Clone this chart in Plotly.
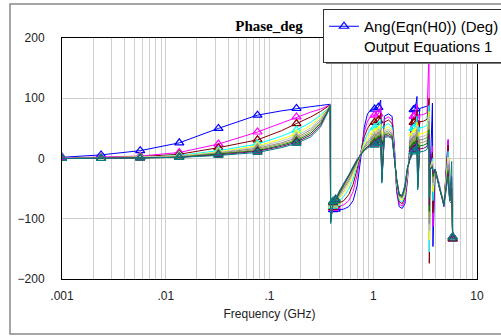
import plotly.graph_objects as go

# ---------------- data ----------------
freq_ghz = [0.001, 0.00238, 0.00567, 0.0135, 0.0322, 0.0766, 0.13, 0.182, 0.25, 0.31, 0.35, 0.375, 0.385,
            0.388, 0.41, 0.434, 0.47, 0.52, 0.58, 0.64, 0.70, 0.76, 0.82, 0.88, 0.94, 1.03, 1.12, 1.18, 1.21,
            1.28, 1.40, 1.52, 1.60, 1.68, 1.78, 1.90, 2.02, 2.14, 2.25, 2.35, 2.45, 2.55, 2.64, 2.68, 2.8,
            3.05, 3.3, 3.45, 3.47, 3.55, 3.72, 3.76, 3.95, 4.3, 4.8, 5.27, 5.45, 5.7, 5.83]

phase_s1 = [2, 6, 13, 26, 50, 72, 79, 83, 86, 88, 89, 89, 90,
            -88, -85, -84, -85, -84, -80, -70, -45, 2, 52, 74, 80, 82, 85, 97, -30,
            70, 74, 70, 20, -55, -80, -83, -75, -35, 20, 70, 81, 83, 103, -40, 83,
            85, 87, 88, 30, -15, 92, -146, -18, -40, -80, 30, -70, -75, -130]
phase_s2 = [1, 2, 4, 10, 24, 44, 59, 69, 77, 82, 86, 88, 89,
            -90, -83, -80, -79, -77, -70, -55, -27, 10, 44, 62, 69, 72, 74, 86, -30,
            65, 69, 64, 15, -50, -76, -79, -70, -31, 15, 57, 70, 72, 90, -40, 72,
            73, 76, 178, -110, -15, 20, -113, -18, -42, -78, 32, -70, -72, -130]
phase_s3 = [0, 1, 3, 7, 18, 31, 46, 58, 69, 78, 84, 87, 89,
            -92, -81, -77, -74, -70, -60, -43, -17, 11, 36, 50, 57, 60, 63, 75, -30,
            60, 64, 58, 10, -46, -72, -75, -65, -27, 10, 47, 60, 62, 80, -42, 61,
            62, 65, 100, -174, -15, 10, -90, -18, -43, -77, 22, -70, -72, -131]
phase_s4 = [0, 1, 2, 5, 13, 24, 37, 47, 60, 72, 81, 85, 89,
            -95, -79, -75, -70, -63, -51, -34, -11, 10, 29, 41, 48, 51, 54, 65, -30,
            54, 58, 52, 7, -42, -69, -72, -61, -24, 7, 37, 50, 52, 70, -43, 51,
            52, 55, 88, -155, -15, 0, -70, -18, -43, -76, 12, -70, -72, -131]
phase_s5 = [0, 1, 2, 4, 11, 21, 32, 41, 55, 69, 79, 85, 89,
            -97, -77, -73, -66, -57, -44, -27, -8, 9, 24, 34, 40, 43, 46, 57, -30,
            49, 53, 47, 5, -40, -66, -69, -57, -21, 4, 29, 41, 43, 60, -44, 41,
            42, 45, 78, -135, -15, -5, -55, -18, -44, -75, 2, -70, -72, -132]
phase_s6 = [0, 1, 2, 4, 10, 19, 29, 37, 51, 66, 78, 84, 88,
            -99, -76, -72, -64, -54, -40, -24, -7, 9, 21, 30, 35, 38, 41, 52, -32,
            46, 49, 44, 4, -38, -64, -67, -54, -19, 2, 23, 35, 37, 54, -45, 36,
            37, 40, 70, -120, -16, -8, -45, -18, -44, -75, -5, -70, -70, -132]
phase_s7 = [0, 0, 1, 3, 9, 17, 26, 34, 48, 63, 76, 84, 88,
            -101, -75, -71, -62, -51, -37, -21, -5, 8, 19, 27, 31, 34, 37, 48, -33,
            43, 46, 41, 3, -37, -63, -65, -52, -18, 1, 18, 30, 32, 48, -46, 31,
            32, 35, 62, -108, -16, -10, -40, -18, -44, -75, -10, -70, -68, -132]
phase_s8 = [0, 0, 1, 3, 8, 15, 24, 31, 45, 60, 74, 83, 88,
            -103, -74, -70, -60, -48, -34, -19, -4, 8, 17, 24, 28, 30, 33, 44, -35,
            41, 43, 39, 2, -36, -62, -64, -50, -17, 0, 14, 25, 27, 42, -47, 26,
            27, 30, 55, -98, -17, -12, -35, -18, -45, -75, -15, -70, -65, -133]
phase_s9 = [0, 0, 1, 2, 7, 13, 22, 29, 42, 58, 73, 83, 88,
            -105, -73, -69, -58, -46, -31, -17, -3, 7, 15, 21, 25, 27, 30, 40, -36,
            39, 41, 37, 1, -35, -61, -63, -48, -16, -1, 11, 20, 22, 36, -48, 21,
            22, 25, 48, -88, -17, -13, -30, -18, -45, -76, -20, -70, -50, -133]
phase_s10 = [0, 0, 1, 2, 6, 12, 20, 27, 39, 55, 71, 82, 88,
             -106, -72, -68, -56, -44, -29, -15, -2, 7, 14, 19, 22, 24, 27, 37, -38,
             37, 38, 35, 0, -34, -60, -62, -46, -15, -2, 8, 15, 17, 30, -50, 16,
             17, 20, 40, -78, -18, -14, -25, -18, -46, -77, -25, -70, -30, -134]
phase_s11 = [0, 0, 1, 2, 5, 10, 18, 25, 36, 52, 69, 81, 88,
             -108, -71, -67, -54, -42, -27, -13, -1, 6, 13, 17, 20, 22, 25, 34, -41,
             35, 36, 33, -1, -33, -59, -61, -44, -14, -3, 6, 11, 13, 25, -52, 11,
             12, 15, 32, -65, -18, -15, -20, -18, -46, -78, -30, -70, -5, -130]

marker_idx = [0, 1, 2, 3, 4, 5, 7, 14, 15, 25, 26, 40, 41, 58]

x_tick_vals = [0.001, 0.01, 0.1, 1, 10]
x_tick_text = [".001", ".01", ".1", "1", "10"]
y_tick_vals = [-200, -100, 0, 100, 200]
legend_label = "Ang(Eqn(H0)) (Deg)<br>Output Equations 1"
title_text = "Phase_deg"
x_title = "Frequency (GHz)"

# ---------------- styles ----------------
series = [phase_s1, phase_s2, phase_s3, phase_s4, phase_s5, phase_s6,
          phase_s7, phase_s8, phase_s9, phase_s10, phase_s11]
colors = ["#0000FF", "#FF00FF", "#800000", "#00FFFF", "#FFFF00", "#C0C0C0",
          "#8C8C8C", "#A0A050", "#008000", "#800080", "#008080"]

fig = go.Figure()
for vals, col in zip(series, colors):
    fig.add_trace(go.Scatter(x=freq_ghz, y=vals, mode="lines",
                             line=dict(color=col, width=1), showlegend=False,
                             hoverinfo="skip"))
    fig.add_trace(go.Scatter(x=[freq_ghz[i] for i in marker_idx],
                             y=[vals[i] for i in marker_idx], mode="markers",
                             marker=dict(symbol="triangle-up-open", size=8, color=col,
                                         line=dict(width=1.2, color=col)),
                             showlegend=False, hoverinfo="skip"))

# legend entry
fig.add_trace(go.Scatter(x=[None], y=[None], mode="lines+markers", name=legend_label,
                         line=dict(color=colors[0], width=1),
                         marker=dict(symbol="triangle-up-open", size=8, color=colors[0],
                                     line=dict(width=1.2, color=colors[0]))))

minor_vals = [k * 10.0 ** e for e in (-3, -2, -1, 0) for k in range(2, 10)]

W, H = 501, 336
ML, MR, MT, MB = 62, 24, 38, 57
pw, ph = W - ML - MR, H - MT - MB

def px_x(px):
    return (px - ML) / pw

def px_y(py):
    return (H - MB - py) / ph

font_main = "Liberation Sans, Arial, sans-serif"

fig.update_layout(
    width=W, height=H,
    margin=dict(l=ML, r=MR, t=MT, b=MB, pad=0, autoexpand=False),
    paper_bgcolor="white", plot_bgcolor="white",
    title=dict(text="<b>%s</b>" % title_text, xref="container", x=269 / W, xanchor="center",
               yref="container", y=1 - 26 / H, yanchor="middle",
               font=dict(family="Liberation Serif, Times New Roman, serif", size=15, color="black")),
    xaxis=dict(type="log", range=[-3, 1], tickmode="array", tickvals=x_tick_vals,
               ticktext=x_tick_text, showgrid=True, gridcolor="#CFCFCF", gridwidth=1,
               minor=dict(tickmode="array", tickvals=minor_vals, showgrid=True,
                          gridcolor="#CFCFCF", gridwidth=1, ticks=""),
               showline=True, linecolor="black", linewidth=1, mirror=True, ticks="",
               tickfont=dict(family=font_main, size=12, color="#222"),
               ticklabelstandoff=6,
               title=dict(text=x_title, font=dict(family=font_main, size=12, color="#222"),
                          standoff=7),
               zeroline=False),
    yaxis=dict(range=[-200, 200], tickmode="array", tickvals=y_tick_vals,
               showgrid=True, gridcolor="#CFCFCF", gridwidth=1,
               showline=True, linecolor="black", linewidth=1, mirror=True, ticks="",
               tickfont=dict(family=font_main, size=12, color="#222"),
               ticklabelstandoff=14, zeroline=False),
    legend=dict(x=px_x(323), y=px_y(9), xanchor="left", yanchor="top",
                bgcolor="white", bordercolor="#333", borderwidth=1,
                font=dict(family=font_main, size=15, color="black"),
                valign="top", tracegroupgap=0, itemwidth=30),
    showlegend=True,
    shapes=[
        dict(type="rect", xref="paper", yref="paper",
             x0=px_x(10), x1=px_x(520), y0=px_y(334), y1=px_y(4),
             line=dict(color="#888", width=1.5), fillcolor="rgba(0,0,0,0)", layer="below"),
        dict(type="rect", xref="paper", yref="paper",
             x0=px_x(326), x1=px_x(520), y0=px_y(64), y1=px_y(12),
             line=dict(width=0), fillcolor="#777", layer="above"),
    ],
)

fig.write_html("out.html")
